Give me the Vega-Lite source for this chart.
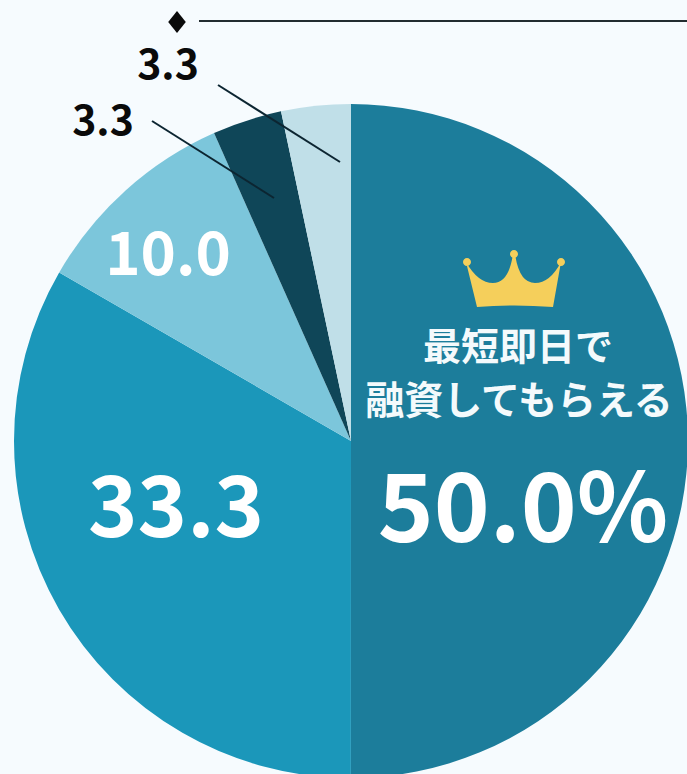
{
"$schema":"https://vega.github.io/schema/vega-lite/v6.json",
"width":687,"height":774,"padding":0,"autosize":{"type":"none"},
"background":"#f6fbfe",
"view":{"stroke":null},
"data":{"values":[
{"slice":"最短即日で融資してもらえる","order":1,"value":50.0,"label":"50.0%"},
{"slice":"B","order":2,"value":33.33,"label":"33.3"},
{"slice":"C","order":3,"value":10.0,"label":"10.0"},
{"slice":"D","order":4,"value":3.33,"label":"3.3"},
{"slice":"E","order":5,"value":3.33,"label":"3.3"}
]},
"transform":[{"stack":"value","sort":[{"field":"order","order":"ascending"}],"as":["s0","s1"]}],
"config":{"text":{"font":"Noto Sans CJK JP","fontWeight":"bold"}},
"layer":[
{"mark":{"type":"arc","x":351,"y":441,"outerRadius":337},
 "encoding":{
  "theta":{"field":"s0","type":"quantitative","scale":{"domain":[0,99.99]}},
  "theta2":{"field":"s1"},
  "color":{"field":"slice","type":"nominal","legend":null,"scale":{"domain":["最短即日で融資してもらえる","B","C","D","E"],"range":["#1c7d9b","#1b97ba","#7cc6db","#0f4658","#c0dfe8"]}}
 }},
{"transform":[{"filter":"datum.slice==='E'"}],"mark":{"type":"rule","stroke":"#0c2531","strokeWidth":2},"encoding":{"x":{"value":218},"x2":{"value":340},"y":{"value":85},"y2":{"value":162}}},
{"transform":[{"filter":"datum.slice==='D'"}],"mark":{"type":"rule","stroke":"#0c2531","strokeWidth":2},"encoding":{"x":{"value":152},"x2":{"value":274},"y":{"value":121},"y2":{"value":198}}},
{"transform":[{"filter":"datum.slice==='D'"}],"mark":{"type":"rule","stroke":"#222c30","strokeWidth":2},"encoding":{"x":{"value":199},"x2":{"value":687},"y":{"value":21}}},
{"transform":[{"filter":"datum.slice==='D'"}],"mark":{"type":"point","x":177,"y":22,"filled":true,"fill":"#0a0a0a","opacity":1,"size":484,"shape":"M0 -1 L0.8 0 L0 1 L-0.8 0 Z"},"encoding":{}},
{"transform":[{"filter":"datum.order===1"}],"mark":{"type":"point","x":514,"y":282,"filled":true,"fill":"#f5cf5b","opacity":1,"size":10000,"shape":"M-.96 -.4 Q-.72 .02 -.42 .02 Q-.12 .02 -.03 -.5 L.03 -.5 Q.12 .02 .42 .02 Q.72 .02 .94 -.4 L.78 .5 Q0 .44 -.74 .5 Z M-1.02 -.4 A.08 .08 0 1 1 -.86 -.4 A.08 .08 0 1 1 -1.02 -.4 Z M-.08 -.56 A.08 .08 0 1 1 .08 -.56 A.08 .08 0 1 1 -.08 -.56 Z M.86 -.4 A.08 .08 0 1 1 1.02 -.4 A.08 .08 0 1 1 .86 -.4 Z"},"encoding":{}},
{"transform":[{"filter":"datum.order===1"}],"mark":{"type":"text","x":518,"y":349,"align":"center","baseline":"middle","fontSize":38,"fill":"#f4fafc"},"encoding":{"text":{"value":"最短即日で"}}},
{"transform":[{"filter":"datum.order===1"}],"mark":{"type":"text","x":519,"y":402,"align":"center","baseline":"middle","fontSize":39,"fill":"#f4fafc"},"encoding":{"text":{"value":"融資してもらえる"}}},
{"transform":[{"filter":"datum.order===1"}],"mark":{"type":"text","x":523,"y":513,"align":"center","baseline":"middle","fontSize":95,"fill":"#ffffff"},"encoding":{"text":{"field":"label"}}},
{"transform":[{"filter":"datum.order===2"}],"mark":{"type":"text","x":176,"y":512,"align":"center","baseline":"middle","fontSize":84,"fill":"#ffffff"},"encoding":{"text":{"field":"label"}}},
{"transform":[{"filter":"datum.order===3"}],"mark":{"type":"text","x":168,"y":257,"align":"center","baseline":"middle","fontSize":60,"fill":"#ffffff"},"encoding":{"text":{"field":"label"}}},
{"transform":[{"filter":"datum.order===4"}],"mark":{"type":"text","x":103,"y":123,"align":"center","baseline":"middle","fontSize":41,"fill":"#0a0a0a"},"encoding":{"text":{"field":"label"}}},
{"transform":[{"filter":"datum.order===5"}],"mark":{"type":"text","x":168,"y":67,"align":"center","baseline":"middle","fontSize":41,"fill":"#0a0a0a"},"encoding":{"text":{"field":"label"}}}
]
}
